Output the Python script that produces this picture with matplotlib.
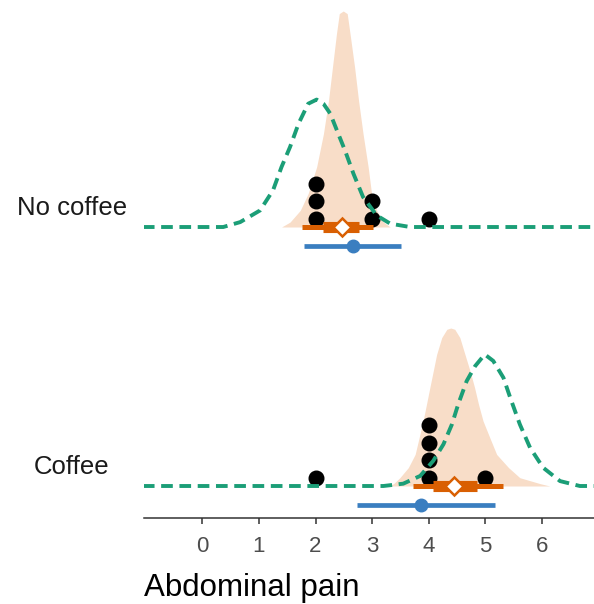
import numpy as np
import matplotlib.pyplot as plt

plt.rcParams['font.family'] = ['Liberation Sans', 'DejaVu Sans']

groups = ['Coffee', 'No coffee']

# observed scores per group
obs = {
    'Coffee': [2, 4, 4, 4, 4, 5],
    'No coffee': [2, 2, 2, 3, 3, 4],
}

# posterior density (peach fill), height in row units
post_x = {
    'No coffee': [1.40, 1.55, 1.73, 1.87, 2.02, 2.14, 2.23, 2.30, 2.37, 2.42, 2.49, 2.56, 2.61,
                  2.69, 2.76, 2.84, 2.93, 2.99, 3.08, 3.20, 3.32],
    'Coffee': [3.29, 3.38, 3.49, 3.64, 3.76, 3.83, 3.90, 3.96, 4.02, 4.08, 4.14, 4.23, 4.32, 4.39,
               4.46, 4.55, 4.64, 4.73, 4.81, 4.88, 4.96, 5.08, 5.20, 5.41, 5.61, 5.97, 6.14],
}
post_h = {
    'No coffee': [0, .019, .064, .129, .232, .360, .489, .618, .746, .824, .834, .824, .746,
                  .618, .489, .360, .232, .129, .064, .019, 0],
    'Coffee': [0, .009, .032, .071, .122, .186, .251, .315, .380, .444, .508, .573, .605, .610,
               .605, .573, .508, .444, .380, .315, .251, .186, .122, .071, .032, .009, 0],
}

# green dashed curve
pred_x = {
    'No coffee': [-1.05, 0.37, 0.67, 1.02, 1.25, 1.40, 1.55, 1.70, 1.87, 2.02, 2.14, 2.26, 2.40,
                  2.52, 2.67, 2.84, 3.08, 3.32, 3.67, 7.0],
    'Coffee': [-1.05, 3.20, 3.55, 3.85, 4.08, 4.26, 4.41, 4.52, 4.67, 4.82, 4.99, 5.14, 5.32,
               5.44, 5.61, 5.79, 6.02, 6.32, 6.67, 7.0],
}
pred_h = {
    'No coffee': [0, 0, .019, .064, .142, .232, .309, .399, .476, .492, .476, .438, .361,
                  .296, .206, .116, .045, .013, 0, 0],
    'Coffee': [0, 0, .009, .039, .097, .161, .238, .315, .405, .463, .508, .483, .418,
               .341, .238, .148, .071, .019, 0, 0],
}

# orange interval: point, thin (lo, hi), thick (lo, hi)
post_pt = {'No coffee': 2.46, 'Coffee': 4.44}
post_thin = {'No coffee': (1.77, 3.01), 'Coffee': (3.73, 5.32)}
post_thick = {'No coffee': (2.14, 2.76), 'Coffee': (4.08, 4.86)}

# blue interval: point, (lo, hi)
ci_pt = {'No coffee': 2.67, 'Coffee': 3.87}
ci_rng = {'No coffee': (1.80, 3.51), 'Coffee': (2.74, 5.17)}

xticks = [0, 1, 2, 3, 4, 5, 6]

fill_col = '#F8DDC8'
orange = '#D95F02'
green = '#1B9E77'
blue = '#3A7EC0'

fig = plt.figure(figsize=(5.94, 6.04), dpi=100)
ax = fig.add_axes([144 / 594, 86.3 / 604, 1 - 144 / 594, 517.7 / 604])

dot_step = 0.0676
dot_base = 0.032

for row, g in enumerate(groups):
    ax.fill_between(post_x[g], row, row + np.array(post_h[g]), color=fill_col, lw=0, zorder=1)

    vals, counts = np.unique(obs[g], return_counts=True)
    for v, c in zip(vals, counts):
        ys = row + dot_base + dot_step * np.arange(c)
        ax.plot([v] * c, ys, 'o', color='black', ms=10.5, zorder=2)

    ax.plot(post_thin[g], [row, row], color=orange, lw=3.6, solid_capstyle='butt', zorder=3)
    ax.plot(post_thick[g], [row, row], color=orange, lw=8, solid_capstyle='butt', zorder=3)
    ax.plot(post_pt[g], row, 'D', ms=9, mfc='white', mec=orange, mew=1.8, zorder=4)

    ax.plot(pred_x[g], row + np.array(pred_h[g]), color=green, lw=2.8,
            linestyle=(0, (3.0, 1.7)), zorder=5)

    ax.plot(ci_rng[g], [row - 0.072] * 2, color=blue, lw=3.4, solid_capstyle='butt', zorder=3)
    ax.plot(ci_pt[g], row - 0.072, 'o', color=blue, ms=9, zorder=4)

ax.set_xlim(-1.03, 6.92)
ax.set_ylim(-0.1224, 1.8765)

ax.set_xticks(xticks)
ax.set_xticklabels([str(t) for t in xticks])
ax.set_yticks([r + 0.083 for r in range(len(groups))])
ax.set_yticklabels(groups)
for lab in ax.get_yticklabels():
    lab.set_ha('center')

ax.tick_params(axis='y', length=0, pad=52, labelsize=18.5, labelcolor='#1A1A1A')
ax.tick_params(axis='x', length=4.5, width=1.1, color='#333333', pad=9,
               labelsize=16, labelcolor='#4D4D4D')

for s in ['top', 'right', 'left']:
    ax.spines[s].set_visible(False)
ax.spines['bottom'].set_color('#333333')
ax.spines['bottom'].set_linewidth(1.1)

ax.set_xlabel('Abdominal pain', loc='left', fontsize=22.5, color='black', labelpad=11)

fig.savefig('out.png', dpi=100)
